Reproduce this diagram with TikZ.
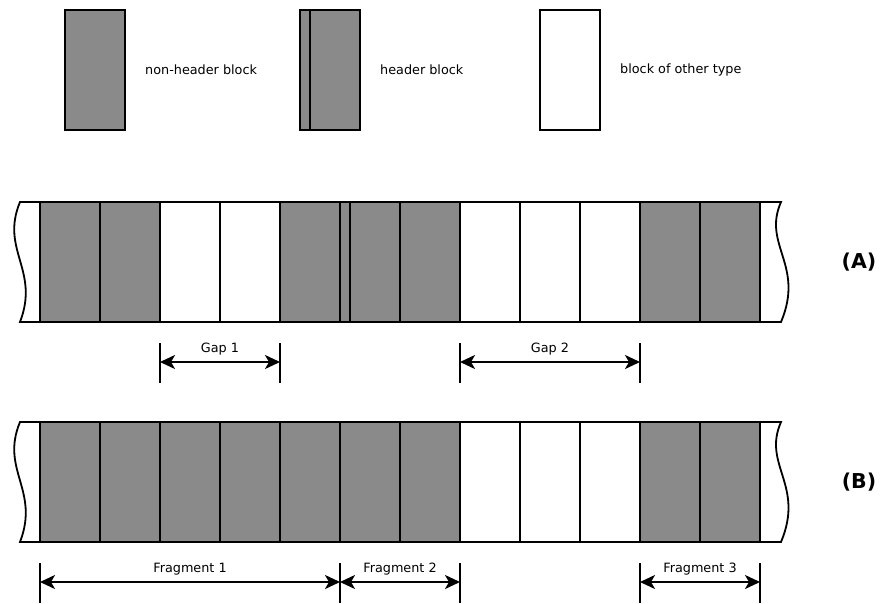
\documentclass[tikz,border=0pt]{standalone}
\usepackage{fontspec}
\setmainfont{DejaVu Sans}
\usetikzlibrary{positioning,arrows.meta}
\definecolor{blockgray}{RGB}{138,138,138}
\tikzset{nonheader block/.style={draw, fill=blockgray, line width=1.8pt, outer sep=0pt,
                                 minimum width=60pt, minimum height=120pt, inner sep=0pt},
        header block/.style={nonheader block,
                             path picture={\draw[line width=1.8pt]
                               ([xshift=10pt]path picture bounding box.north west) --
                               ([xshift=10pt]path picture bounding box.south west);}},
        other block/.style={nonheader block, fill=white},
        row end/.style={draw, line width=1.8pt},
        legend text/.style={inner sep=0pt, font=\fontsize{12.8}{15}\selectfont},
        dim tick/.style={draw, line width=2pt},
        dim line/.style={draw, line width=2pt, {Stealth[length=15pt,width=14pt,inset=4pt]}-{Stealth[length=15pt,width=14pt,inset=4pt]}},
        dim label/.style={above=5pt, inner sep=1pt, font=\fontsize{12.8}{15}\selectfont},
        row label/.style={font=\bfseries\fontsize{20.5}{24}\selectfont},
        }

\begin{document}
\begin{tikzpicture}[x=1pt,y=-1pt]
    \useasboundingbox (0,0) rectangle (881,603);

    % legend
    \node [nonheader block] (legnon) at (95,70) {};
    \node [legend text, right=20pt of legnon] (legnontext) {non-header block};
    \node [header block] (leghdr) at (330,70) {};
    \node [legend text, right=20pt of leghdr] (leghdrtext) {header block};
    \node [other block] (legother) at (570,70) {};
    \node [legend text, right=20pt of legother] (legothertext) {block of other type};

    % row (A)
    \node [nonheader block] (a0) at (70,262) {};
    \node [nonheader block] (a1) at (130,262) {};
    \node [other block] (a2) at (190,262) {};
    \node [other block] (a3) at (250,262) {};
    \node [nonheader block] (a4) at (310,262) {};
    \node [header block] (a5) at (370,262) {};
    \node [nonheader block] (a6) at (430,262) {};
    \node [other block] (a7) at (490,262) {};
    \node [other block] (a8) at (550,262) {};
    \node [other block] (a9) at (610,262) {};
    \node [nonheader block] (a10) at (670,262) {};
    \node [nonheader block] (a11) at (730,262) {};

    \draw [row end] (a0.north west) -- (20,202) .. controls (0,250) and (40,270) .. (20,322) -- (a0.south west);
    \draw [row end] (a11.north east) -- (781,202) .. controls (762,245) and (805,265) .. (781,322) -- (a11.south east);

    \node [row label] (labA) at (859,262) {(A)};

    %gaps
    \draw [dim tick] ([yshift=-21pt]a2.south west) -- ++(0,40);
    \draw [dim tick] ([yshift=-21pt]a3.south east) -- ++(0,40);
    \draw [dim line] ([yshift=-40pt]a2.south west) -- node[dim label]{Gap 1} ([yshift=-40pt]a3.south east);

    \draw [dim tick] ([yshift=-21pt]a7.south west) -- ++(0,40);
    \draw [dim tick] ([yshift=-21pt]a9.south east) -- ++(0,40);
    \draw [dim line] ([yshift=-40pt]a7.south west) -- node[dim label]{Gap 2} ([yshift=-40pt]a9.south east);

    % row (B)
    \node [nonheader block] (b0) at (70,482) {};
    \node [nonheader block] (b1) at (130,482) {};
    \node [nonheader block] (b2) at (190,482) {};
    \node [nonheader block] (b3) at (250,482) {};
    \node [nonheader block] (b4) at (310,482) {};
    \node [nonheader block] (b5) at (370,482) {};
    \node [nonheader block] (b6) at (430,482) {};
    \node [other block] (b7) at (490,482) {};
    \node [other block] (b8) at (550,482) {};
    \node [other block] (b9) at (610,482) {};
    \node [nonheader block] (b10) at (670,482) {};
    \node [nonheader block] (b11) at (730,482) {};

    \draw [row end] (b0.north west) -- (20,422) .. controls (0,470) and (40,490) .. (20,542) -- (b0.south west);
    \draw [row end] (b11.north east) -- (781,422) .. controls (762,465) and (805,485) .. (781,542) -- (b11.south east);

    \node [row label] (labB) at (859,482) {(B)};

    %fragments
    \draw [dim tick] ([yshift=-21pt]b0.south west) -- ++(0,40);
    \draw [dim tick] ([yshift=-21pt]b4.south east) -- ++(0,40);
    \draw [dim tick] ([yshift=-21pt]b6.south east) -- ++(0,40);
    \draw [dim line] ([yshift=-40pt]b0.south west) -- node[dim label]{Fragment 1} ([yshift=-40pt]b4.south east);
    \draw [dim line] ([yshift=-40pt]b5.south west) -- node[dim label]{Fragment 2} ([yshift=-40pt]b6.south east);

    \draw [dim tick] ([yshift=-21pt]b10.south west) -- ++(0,40);
    \draw [dim tick] ([yshift=-21pt]b11.south east) -- ++(0,40);
    \draw [dim line] ([yshift=-40pt]b10.south west) -- node[dim label]{Fragment 3} ([yshift=-40pt]b11.south east);

\end{tikzpicture}
\end{document}
